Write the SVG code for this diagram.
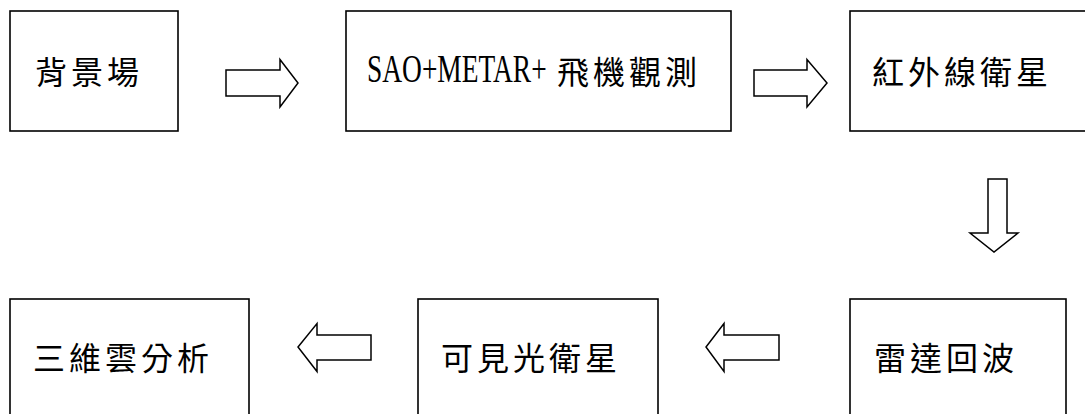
<svg xmlns="http://www.w3.org/2000/svg" width="1085" height="414" viewBox="0 0 1085 414">
<style>
.box{fill:#fff;stroke:#000;stroke-width:1.6}
.arr{fill:#fff;stroke:#000;stroke-width:1.5;stroke-linejoin:miter}
.t{font-family:"Noto Sans CJK TC","Noto Sans CJK JP",sans-serif;font-size:32px;letter-spacing:4px;fill:#000}
.l{font-family:"Liberation Serif",serif;font-size:28px;fill:#000}
</style>
<rect width="1085" height="414" fill="#fff"/>
<g id="connectors">
<polygon class="arr" points="226,70 280,70 280,59.5 298,83 280,107 280,96 226,96"/>
<polygon class="arr" points="754,70 807,70 807,59.5 827,83 807,107 807,96 754,96"/>
<polygon class="arr" points="988,179 1007,179 1007,233 1018,233 994,252 970,233 988,233"/>
<polygon class="arr" points="779,335 724,335 724,323.5 706,347 724,371.5 724,360 779,360"/>
<polygon class="arr" points="371,335 317,335 317,323.5 298,347 317,371.5 317,360 371,360"/>
</g>
<g id="n1"><rect class="box" x="10" y="11" width="168" height="120"/><text class="t" x="35" y="84">背景場</text></g>
<g id="n2"><rect class="box" x="346" y="11" width="385" height="120"/><text class="l" transform="translate(367,82) scale(0.98,1.45)">SAO+METAR+</text><text class="t" x="557" y="84">飛機觀測</text></g>
<g id="n3"><rect class="box" x="850" y="11" width="245" height="120"/><text class="t" x="872" y="84">紅外線衛星</text></g>
<g id="n4"><rect class="box" x="850" y="299" width="216" height="130"/><text class="t" x="874" y="370">雷達回波</text></g>
<g id="n5"><rect class="box" x="418" y="299" width="240" height="130"/><text class="t" x="441" y="370">可見光衛星</text></g>
<g id="n6"><rect class="box" x="10" y="299" width="239" height="130"/><text class="t" x="33" y="370">三維雲分析</text></g>
</svg>
